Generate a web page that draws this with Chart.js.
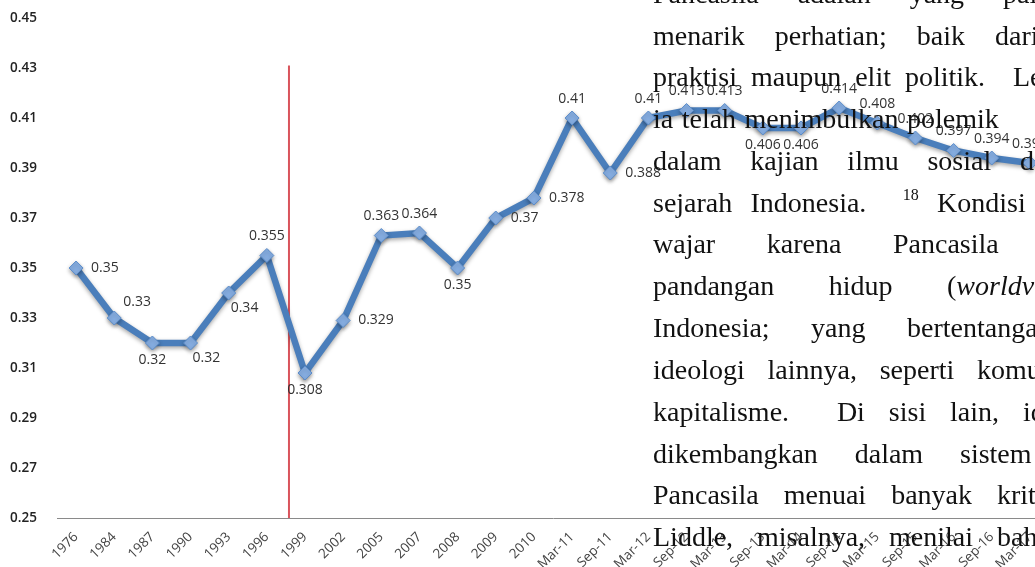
<!DOCTYPE html>
<html>
<head>
<meta charset="utf-8">
<script src="https://cdn.jsdelivr.net/npm/chart.js@4.4.1/dist/chart.umd.min.js"></script>
<style>
    html, body { margin: 0; padding: 0; background: #fff; width: 1035px; height: 567px; overflow: hidden; }
    #wrap { position: absolute; left: 0; top: 0; width: 1080px; height: 567px; }
    #page { position: absolute; left: 0; top: 0; width: 1035px; height: 567px; overflow: hidden; pointer-events: none;
            font-family: "Liberation Serif", "Times New Roman", serif; font-size: 28px; color: #111; }
    #page span { position: absolute; white-space: nowrap; line-height: 28px; }
    #page sup { font-size: 16px; vertical-align: 12px; line-height: 0; }
</style>
</head>
<body>
<div id="wrap"><canvas id="chart" width="1080" height="567"></canvas></div>
<div id="page"></div>
<script>
const categories = ['1976', '1984', '1987', '1990', '1993', '1996', '1999', '2002', '2005', '2007', '2008', '2009', '2010',
    'Mar-11', 'Sep-11', 'Mar-12', 'Sep-12', 'Mar-13', 'Sep-13', 'Mar-14', 'Sep-14', 'Mar-15', 'Sep-15', 'Mar-16', 'Sep-16', 'Mar-17'];
const values = [0.35, 0.33, 0.32, 0.32, 0.34, 0.355, 0.308, 0.329, 0.363, 0.364, 0.35, 0.37, 0.378,
    0.41, 0.388, 0.41, 0.413, 0.413, 0.406, 0.406, 0.414, 0.408, 0.402, 0.397, 0.394, 0.392];
const yMin = 0.25;
const yMax = 0.45;
const yStep = 0.02;
// where each value label sits relative to its point
const labelSide = ['r', 'ar', 'b', 'br', 'br', 'a', 'b', 'r', 'a', 'a', 'b', 'r', 'r',
    'a', 'r', 'a', 'a', 'a', 'b', 'b', 'a', 'a', 'a', 'a', 'a', 'a'];
// red marker line between 1996 and 1999 (category index, top value)
const markerIndex = 5.58;
const markerTop = 0.431;

// page text laid over the chart: baseline, x where the last visible word starts, words
// ('' = the second space after a full stop)
const textLeft = 653;
const pageLines = [
    [2, 1003, ['Pancasila', 'adalah', 'yang', 'paling']],
    [44, 995, ['menarik', 'perhatian;', 'baik', 'dari']],
    [85, 1013, ['praktisi', 'maupun', 'elit', 'politik.', '', 'Lebih']],
    [127, 907, ['ia', 'telah', 'menimbulkan', 'polemik']],
    [169, 1020, ['dalam', 'kajian', 'ilmu', 'sosial', 'dan']],
    [211, 937, ['sejarah', 'Indonesia.', '', '<sup>18</sup>', 'Kondisi']],
    [252, 893, ['wajar', 'karena', 'Pancasila']],
    [294, 947, ['pandangan', 'hidup', '(<i>worldview</i>)']],
    [336, 907, ['Indonesia;', 'yang', 'bertentangan']],
    [378, 977, ['ideologi', 'lainnya,', 'seperti', 'komunisme']],
    [420, 1023, ['kapitalisme.', '', 'Di', 'sisi', 'lain,', 'ideologi']],
    [462, 960, ['dikembangkan', 'dalam', 'sistem']],
    [503, 997, ['Pancasila', 'menuai', 'banyak', 'kritik.']],
    [545, 997, ['Liddle,', 'misalnya,', 'menilai', 'bahwa']],
    [587, 975, ['bahwa', 'Soeharto', 'telah', 'Elit']]
];

const page = document.getElementById('page');
pageLines.forEach(function(line) {
    const words = line[2];
    const spans = words.map(function(w) {
        const s = document.createElement('span');
        s.innerHTML = w;
        s.style.top = (line[0] - 22) + 'px';
        page.appendChild(s);
        return s;
    });
    // justify: equal gaps between words, last word starting at line[1]
    let used = 0;
    for (let i = 0; i < spans.length - 1; i++) used += spans[i].getBoundingClientRect().width;
    const gap = (line[1] - textLeft - used) / (spans.length - 1);
    let x = textLeft;
    spans.forEach(function(s, i) {
        s.style.left = (i === spans.length - 1 ? line[1] : x) + 'px';
        x += s.getBoundingClientRect().width + gap;
    });
});

const markerLine = {
    id: 'markerLine',
    beforeDatasetsDraw(chart) {
        const ctx = chart.ctx;
        const x = chart.scales.x.getPixelForValue(markerIndex);
        const y0 = chart.scales.y.getPixelForValue(yMin);
        const y1 = chart.scales.y.getPixelForValue(markerTop);
        ctx.save();
        ctx.strokeStyle = '#d9545c';
        ctx.lineWidth = 2;
        ctx.beginPath();
        ctx.moveTo(x, y0);
        ctx.lineTo(x, y1);
        ctx.stroke();
        ctx.restore();
    }
};

const lineShadow = {
    id: 'lineShadow',
    beforeDatasetDraw(chart) {
        const ctx = chart.ctx;
        ctx.save();
        ctx.shadowColor = 'rgba(0, 0, 0, 0.35)';
        ctx.shadowBlur = 4;
        ctx.shadowOffsetY = 2;
    },
    afterDatasetDraw(chart) {
        chart.ctx.restore();
    }
};

const valueLabels = {
    id: 'valueLabels',
    afterDatasetsDraw(chart) {
        const ctx = chart.ctx;
        const meta = chart.getDatasetMeta(0);
        ctx.save();
        ctx.font = '14px "Open Sans"';
        ctx.fillStyle = '#333';
        ctx.textBaseline = 'middle';
        meta.data.forEach(function(pt, i) {
            const txt = String(values[i]);
            const side = labelSide[i];
            if (side === 'a') {
                ctx.textAlign = 'center';
                ctx.fillText(txt, pt.x, pt.y - 19);
            } else if (side === 'b') {
                ctx.textAlign = 'center';
                ctx.fillText(txt, pt.x, pt.y + 17);
            } else if (side === 'r') {
                ctx.textAlign = 'left';
                ctx.fillText(txt, pt.x + 15, pt.y);
            } else if (side === 'ar') {
                ctx.textAlign = 'left';
                ctx.fillText(txt, pt.x + 9, pt.y - 16);
            } else if (side === 'br') {
                ctx.textAlign = 'left';
                ctx.fillText(txt, pt.x + 2, pt.y + 15);
            }
        });
        ctx.restore();
    }
};

new Chart(document.getElementById('chart'), {
    type: 'line',
    data: {
        labels: categories,
        datasets: [{
            data: values,
            borderColor: '#4a7ebb',
            borderWidth: 6.5,
            pointStyle: 'rectRot',
            pointRadius: 7,
            pointBackgroundColor: '#86aee2',
            pointBorderColor: '#5b8cc9',
            pointBorderWidth: 1,
            tension: 0,
            clip: false
        }]
    },
    options: {
        responsive: false,
        animation: false,
        events: [],
        layout: { padding: { left: 10, top: 18, right: 31, bottom: 0 } },
        plugins: {
            legend: { display: false },
            tooltip: { enabled: false }
        },
        scales: {
            x: {
                offset: true,
                grid: { display: false },
                border: { color: '#8a8a8a', width: 1 },
                ticks: {
                    autoSkip: false,
                    maxRotation: 45,
                    minRotation: 45,
                    padding: 3,
                    color: '#444',
                    font: { family: 'Open Sans', size: 13.5 }
                },
                afterFit: function(scale) { scale.height = 49; }
            },
            y: {
                min: yMin,
                max: yMax,
                grid: { display: false },
                border: { display: false },
                ticks: {
                    stepSize: yStep,
                    crossAlign: 'far',
                    color: '#222',
                    font: { family: 'Open Sans', size: 13.5, weight: '600' },
                    callback: function(v) { return v.toFixed(2); }
                },
                afterFit: function(scale) { scale.width = 47; }
            }
        }
    },
    plugins: [markerLine, lineShadow, valueLabels]
});
</script>
</body>
</html>
